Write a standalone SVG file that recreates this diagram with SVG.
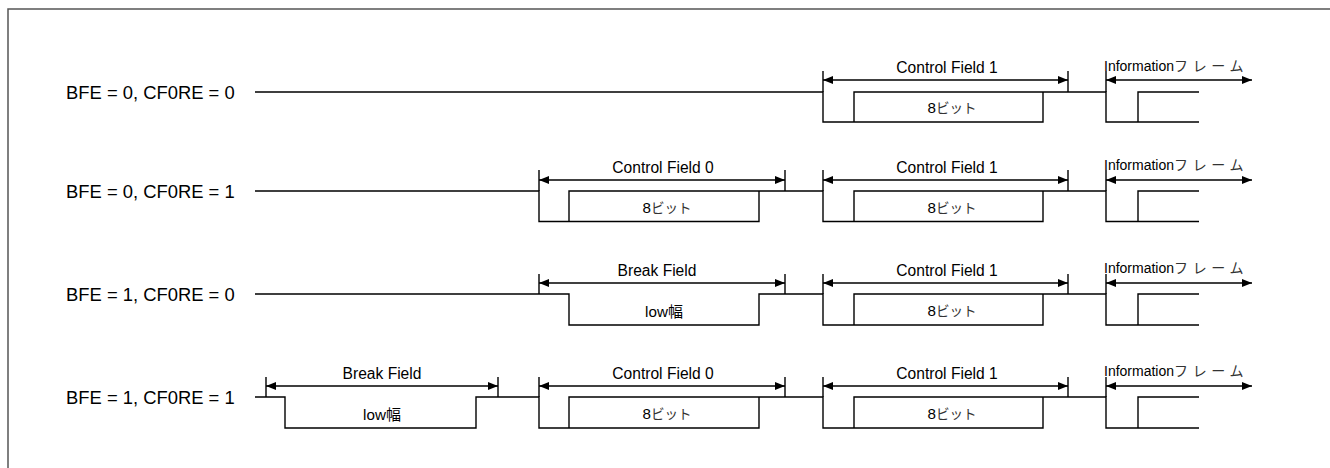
<svg xmlns="http://www.w3.org/2000/svg" width="1330" height="468" viewBox="0 0 1330 468">
<style>
text{font-family:"Liberation Sans","Noto Sans CJK JP",Arial,sans-serif;fill:#000}
.row{font-size:18.4px}
.fl{font-size:15.6px;text-anchor:middle}
.bl{font-size:15.2px;text-anchor:middle}
.kana{font-size:13.5px;fill:#333}
.info{font-size:14px}
.infok{font-size:14px;letter-spacing:4.6px;fill:#333}
.sig{fill:none;stroke:#000;stroke-width:1.4}
.tick{fill:none;stroke:#000;stroke-width:1.4}
.arr{fill:none;stroke:#000;stroke-width:1.4;marker-start:url(#ah);marker-end:url(#ah)}
</style>
<defs>
<marker id="ah" viewBox="0 0 10 8" refX="10" refY="4" markerWidth="10" markerHeight="8" markerUnits="userSpaceOnUse" orient="auto-start-reverse">
<path d="M0,0 L10,4 L0,8 z" fill="#000"/>
</marker>
</defs>
<rect width="1330" height="468" fill="#fff"/>
<path d="M8,468 V9 H1330" fill="none" stroke="#555" stroke-width="1.5"/>

<g id="row1">
<text class="row" x="66" y="98.5">BFE = 0, CF0RE = 0</text>
<g id="connectors-row1">
<path class="sig" d="M255,92 H823 V122 H1043 V92 H1106 V122 H1199 M854,122 V92 H1043 M1138,122 V92 H1199"/>
<path class="tick" d="M823,71 V92 M1068,71 V92 M1106,71 V92"/>
<line class="arr" x1="823" y1="80" x2="1068" y2="80"/>
<line class="arr" x1="1106" y1="80" x2="1252" y2="80"/>
</g>
<g id="r1-cf1"><text class="fl" x="947" y="72.5">Control Field 1</text><text class="bl" x="952" y="113">8<tspan class="kana">ビット</tspan></text></g>
<g id="r1-info"><text x="1104" y="70.5"><tspan class="info">Information</tspan><tspan class="infok">フレーム</tspan></text></g>
</g>

<g id="row2">
<text class="row" x="66" y="197.5">BFE = 0, CF0RE = 1</text>
<g id="connectors-row2">
<path class="sig" d="M255,191 H539 V221.5 H759 V191 H823 V221.5 H1043 V191 H1106 V221.5 H1199 M569,221.5 V191 H759 M854,221.5 V191 H1043 M1138,221.5 V191 H1199"/>
<path class="tick" d="M539,170 V191 M785,170 V191 M823,170 V191 M1068,170 V191 M1106,170 V191"/>
<line class="arr" x1="539" y1="180" x2="785" y2="180"/>
<line class="arr" x1="823" y1="180" x2="1068" y2="180"/>
<line class="arr" x1="1106" y1="180" x2="1252" y2="180"/>
</g>
<g id="r2-cf0"><text class="fl" x="663" y="172.5">Control Field 0</text><text class="bl" x="667" y="212.5">8<tspan class="kana">ビット</tspan></text></g>
<g id="r2-cf1"><text class="fl" x="947" y="172.5">Control Field 1</text><text class="bl" x="952" y="212.5">8<tspan class="kana">ビット</tspan></text></g>
<g id="r2-info"><text x="1104" y="170"><tspan class="info">Information</tspan><tspan class="infok">フレーム</tspan></text></g>
</g>

<g id="row3">
<text class="row" x="66" y="300.5">BFE = 1, CF0RE = 0</text>
<g id="connectors-row3">
<path class="sig" d="M255,294 H569 V325 H759 V294 H823 V325 H1043 V294 H1106 V325 H1199 M854,325 V294 H1043 M1138,325 V294 H1199"/>
<path class="tick" d="M539,274 V294 M785,274 V294 M823,274 V294 M1068,274 V294 M1106,274 V294"/>
<line class="arr" x1="539" y1="283" x2="785" y2="283"/>
<line class="arr" x1="823" y1="283" x2="1068" y2="283"/>
<line class="arr" x1="1106" y1="283" x2="1252" y2="283"/>
</g>
<g id="r3-bf"><text class="fl" x="657" y="276">Break Field</text><text class="bl" x="664" y="316.5">low<tspan style="font-size:15px">幅</tspan></text></g>
<g id="r3-cf1"><text class="fl" x="947" y="276">Control Field 1</text><text class="bl" x="952" y="316">8<tspan class="kana">ビット</tspan></text></g>
<g id="r3-info"><text x="1104" y="273"><tspan class="info">Information</tspan><tspan class="infok">フレーム</tspan></text></g>
</g>

<g id="row4">
<text class="row" x="66" y="403.5">BFE = 1, CF0RE = 1</text>
<g id="connectors-row4">
<path class="sig" d="M255,397 H285 V428 H476 V397 H539 V428 H759 V397 H823 V428 H1043 V397 H1106 V428 H1199 M569,428 V397 H759 M854,428 V397 H1043 M1138,428 V397 H1199"/>
<path class="tick" d="M266,377 V397 M498,377 V397 M539,377 V397 M785,377 V397 M823,377 V397 M1068,377 V397 M1106,377 V397"/>
<line class="arr" x1="266" y1="386" x2="498" y2="386"/>
<line class="arr" x1="539" y1="386" x2="785" y2="386"/>
<line class="arr" x1="823" y1="386" x2="1068" y2="386"/>
<line class="arr" x1="1106" y1="386" x2="1252" y2="386"/>
</g>
<g id="r4-bf"><text class="fl" x="382" y="379">Break Field</text><text class="bl" x="382" y="419.5">low<tspan style="font-size:15px">幅</tspan></text></g>
<g id="r4-cf0"><text class="fl" x="663" y="379">Control Field 0</text><text class="bl" x="667" y="419">8<tspan class="kana">ビット</tspan></text></g>
<g id="r4-cf1"><text class="fl" x="947" y="379">Control Field 1</text><text class="bl" x="952" y="419">8<tspan class="kana">ビット</tspan></text></g>
<g id="r4-info"><text x="1104" y="376"><tspan class="info">Information</tspan><tspan class="infok">フレーム</tspan></text></g>
</g>
</svg>
